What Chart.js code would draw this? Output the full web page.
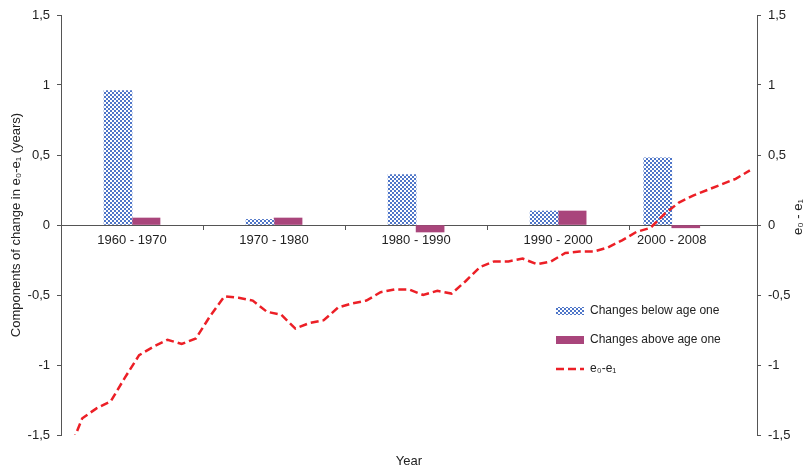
<!DOCTYPE html>
<html lang="en">
<head>
<meta charset="UTF-8">
<title>Components of change in e0-e1</title>
<script src="https://cdn.jsdelivr.net/npm/chart.js"></script>
<style>
  html, body { margin: 0; padding: 0; background: #fff; }
  #wrap { width: 805px; height: 468px; }
</style>
</head>
<body>
<div id="wrap"><canvas id="gapChart" width="805" height="468"></canvas></div>
<script>
// bar periods and where they sit on the year axis
const periods = ['1960 - 1970', '1970 - 1980', '1980 - 1990', '1990 - 2000', '2000 - 2008'];
const periodEdges = [1959.5, 1969.5, 1979.5, 1989.5, 1999.5, 2005.5];
const belowAgeOne = [0.96, 0.04, 0.36, 0.10, 0.48];
const aboveAgeOne = [0.05, 0.05, -0.05, 0.10, -0.02];

// yearly e0-e1
const years = [1960, 1961, 1962, 1963, 1964, 1965, 1966, 1967, 1968, 1969,
               1970, 1971, 1972, 1973, 1974, 1975, 1976, 1977, 1978, 1979,
               1980, 1981, 1982, 1983, 1984, 1985, 1986, 1987, 1988, 1989,
               1990, 1991, 1992, 1993, 1994, 1995, 1996, 1997, 1998, 1999,
               2000, 2001, 2002, 2003, 2004, 2005, 2006, 2007, 2008];
const gap = [-1.63, -1.38, -1.31, -1.26, -1.09, -0.93, -0.87, -0.82, -0.85, -0.81,
             -0.65, -0.51, -0.52, -0.54, -0.62, -0.64, -0.74, -0.70, -0.68, -0.59,
             -0.56, -0.54, -0.48, -0.46, -0.46, -0.50, -0.47, -0.49, -0.40, -0.30,
             -0.26, -0.26, -0.24, -0.28, -0.26, -0.20, -0.19, -0.19, -0.16, -0.11,
             -0.05, -0.02, 0.08, 0.16, 0.21, 0.25, 0.29, 0.33, 0.39];

const yTicks = [-1.5, -1, -0.5, 0, 0.5, 1, 1.5];

const axisColor = '#555';
const textColor = '#222';
const FONT = '"Liberation Sans", Arial, sans-serif';

const mids = periods.map((p, i) => (periodEdges[i] + periodEdges[i + 1]) / 2);
const tickEdges = periodEdges.slice(0, -1);
const comma = v => String(v).replace('.', ',');

// dotted fill like the original
function dotPattern() {
    const c = document.createElement('canvas');
    c.width = 4; c.height = 4;
    const g = c.getContext('2d');
    g.fillStyle = '#ffffff';
    g.fillRect(0, 0, 4, 4);
    g.fillStyle = '#4f76c8';
    g.fillRect(0, 0, 2, 2);
    g.fillRect(2, 2, 2, 2);
    return g.createPattern(c, 'repeat');
}

// put the legend inside the plot, lower right
const legendSpot = {
    id: 'legendSpot',
    afterLayout(chart) {
        const lg = chart.legend;
        const w = lg.width, h = lg.height;
        lg.left = 539; lg.top = 288;
        lg.right = lg.left + w; lg.bottom = lg.top + h;
    }
};

// right axis title reads bottom to top
const rightTitle = {
    id: 'rightTitle',
    afterDraw(chart) {
        const { ctx, chartArea } = chart;
        ctx.save();
        ctx.translate(chart.scales.y1.right - 7, (chartArea.top + chartArea.bottom) / 2 - 8);
        ctx.rotate(-Math.PI / 2);
        ctx.font = '13px ' + FONT;
        ctx.fillStyle = textColor;
        ctx.textAlign = 'center';
        ctx.textBaseline = 'middle';
        ctx.fillText('e\u2080 - e\u2081', 0, 0);
        ctx.restore();
    }
};

Chart.defaults.font.family = FONT;
Chart.defaults.font.size = 13;
Chart.defaults.color = textColor;
Chart.defaults.animation = false;

const yAxis = (pos, width, title) => ({
    type: 'linear',
    position: pos,
    min: -1.5,
    max: 1.5,
    afterBuildTicks: s => { s.ticks = yTicks.map(v => ({ value: v })); },
    afterFit: s => { s.width = width; },
    ticks: { padding: 7, callback: v => comma(v) },
    grid: { drawOnChartArea: false, tickLength: 4, tickColor: axisColor },
    border: { color: axisColor },
    title: title
});

new Chart(document.getElementById('gapChart'), {
    type: 'bar',
    data: {
        datasets: [
            {
                label: 'Changes below age one',
                data: belowAgeOne.map((v, i) => ({ x: mids[i], y: v })),
                backgroundColor: dotPattern(),
                borderWidth: 0,
                barThickness: 28,
                yAxisID: 'y',
                order: 1
            },
            {
                label: 'Changes above age one',
                data: aboveAgeOne.map((v, i) => ({ x: mids[i], y: v })),
                backgroundColor: '#a9457b',
                borderWidth: 0,
                barThickness: 28,
                yAxisID: 'y',
                order: 1
            },
            {
                type: 'line',
                label: 'e\u2080-e\u2081',
                data: gap.map((v, i) => ({ x: years[i], y: v })),
                borderColor: '#ec1f26',
                borderWidth: 2.5,
                borderDash: [8, 4],
                pointRadius: 0,
                tension: 0,
                fill: false,
                yAxisID: 'y1',
                order: 0
            }
        ]
    },
    options: {
        responsive: false,
        layout: { padding: { top: 15, left: 0, right: 0, bottom: 0 } },
        scales: {
            x: {
                type: 'linear',
                position: { y: 0 },
                min: 1959.5,
                max: 2008.5,
                offset: false,
                afterBuildTicks: s => {
                    s.ticks = tickEdges.concat(mids).sort((a, b) => a - b).map(v => ({ value: v }));
                },
                ticks: {
                    autoSkip: false,
                    maxRotation: 0,
                    padding: 4,
                    callback: v => { const i = mids.indexOf(v); return i >= 0 ? periods[i] : ''; }
                },
                grid: {
                    offset: false,
                    drawOnChartArea: false,
                    tickLength: 4,
                    tickColor: c => (c.tick && !tickEdges.includes(c.tick.value)) ? 'rgba(0,0,0,0)' : axisColor
                },
                border: { color: axisColor }
            },
            y: yAxis('left', 61, {
                display: true,
                text: 'Components of change in e\u2080-e\u2081 (years)',
                padding: { top: 9, bottom: 0 }
            }),
            y1: yAxis('right', 48, { display: false })
        },
        plugins: {
            legend: {
                position: 'chartArea',
                align: 'start',
                labels: {
                    usePointStyle: true,
                    pointStyleWidth: 28,
                    boxHeight: 8,
                    padding: 17,
                    font: { size: 12 },
                    color: textColor,
                    sort: (a, b) => a.datasetIndex - b.datasetIndex,
                    generateLabels: chart => {
                        const items = Chart.defaults.plugins.legend.labels.generateLabels(chart);
                        items.forEach(it => {
                            const ds = chart.data.datasets[it.datasetIndex];
                            if (ds.type === 'line') {
                                it.pointStyle = 'line';
                                it.lineDash = ds.borderDash;
                                it.lineWidth = ds.borderWidth;
                                it.strokeStyle = ds.borderColor;
                            } else {
                                it.pointStyle = 'rect';
                                it.lineWidth = 0;
                            }
                        });
                        return items;
                    }
                }
            },
            title: {
                display: true,
                text: 'Year',
                position: 'bottom',
                fullSize: false,
                font: { size: 13, weight: 'normal', lineHeight: 1 },
                color: textColor,
                padding: { top: 20, bottom: 0 }
            },
            tooltip: { enabled: false }
        }
    },
    plugins: [legendSpot, rightTitle]
});
</script>
</body>
</html>
